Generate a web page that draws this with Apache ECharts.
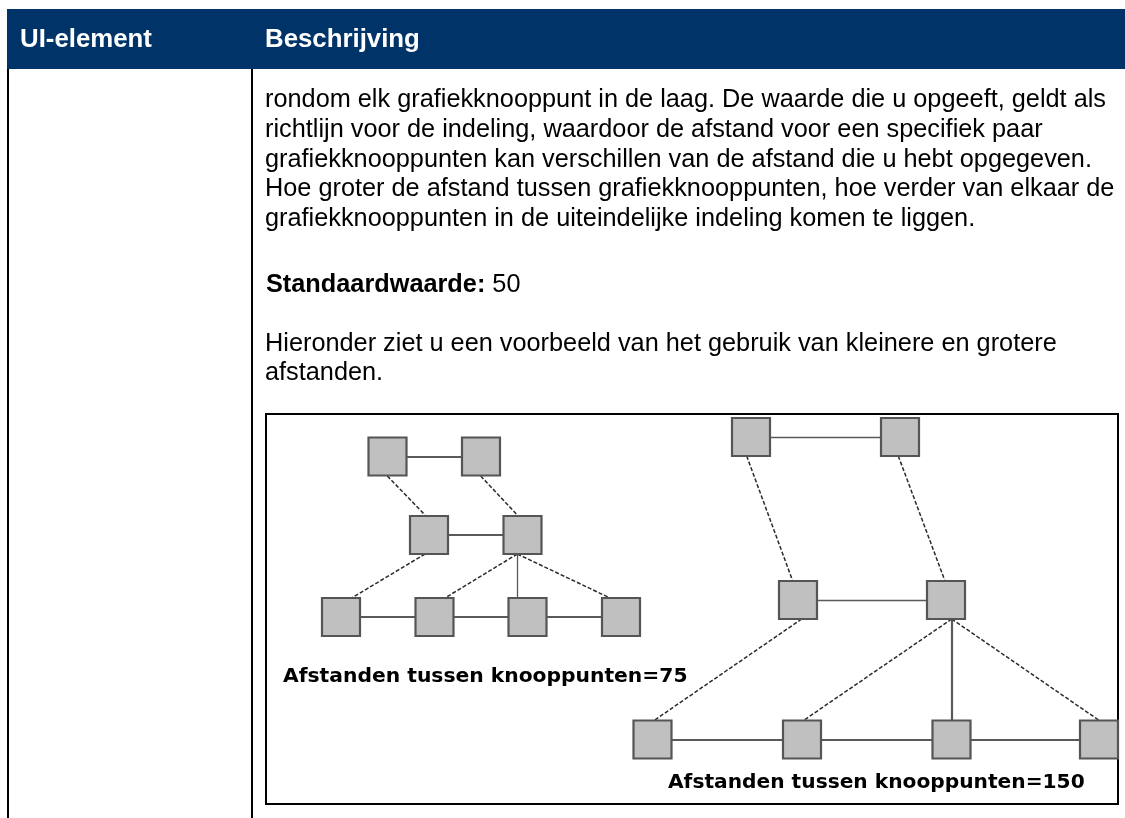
<!DOCTYPE html>
<html>
<head>
<meta charset="utf-8">
<script src="https://cdn.jsdelivr.net/npm/echarts@6/dist/echarts.min.js"></script>
<style>
html,body{margin:0;padding:0;background:#fff;}
#chart{width:1125px;height:818px;}
</style>
</head>
<body>
<div id="chart"></div>
<script>
// ---- data ----
var headerLabels = ['UI-element', 'Beschrijving'];
var paragraphLines = [
  'rondom elk grafiekknooppunt in de laag. De waarde die u opgeeft, geldt als',
  'richtlijn voor de indeling, waardoor de afstand voor een specifiek paar',
  'grafiekknooppunten kan verschillen van de afstand die u hebt opgegeven.',
  'Hoe groter de afstand tussen grafiekknooppunten, hoe verder van elkaar de',
  'grafiekknooppunten in de uiteindelijke indeling komen te liggen.'
];
var defaultLabel = 'Standaardwaarde:';
var defaultValue = ' 50';
var exampleLines = [
  'Hieronder ziet u een voorbeeld van het gebruik van kleinere en grotere',
  'afstanden.'
];
var leftCaption = 'Afstanden tussen knooppunten=75';
var rightCaption = 'Afstanden tussen knooppunten=150';

// node centres (page pixel units)
var leftNodes = [[387.5,456.5],[481,456.5],[429,535],[522.5,535],[341,617],[434.5,617],[527.5,617],[621,617]];
var rightNodes = [[751,437],[900,437],[798,600],[946,600],[652.5,739.5],[802,739.5],[951.5,739.5],[1099,739.5]];

// edges: endpoints [x1, y1, x2, y2]
var leftSolidEdges = [[387.5,456.5,481,456.5],[429,535,522.5,535],[341,617,434.5,617],[434.5,617,527.5,617],[527.5,617,621,617]];
var leftThinEdges = [[517.3,554,517.3,598]];
var leftDashedEdges = [[387.3,476,425,515],[480.7,476,517.3,515],[425,554,351.7,598],[517.3,554,445,598],[517.3,554,610,598]];

var rightSolidEdges = [[652.5,739.5,802,739.5],[802,739.5,951.5,739.5],[951.5,739.5,1099,739.5],[951.7,619,951.7,721]];
var rightThinEdges = [[751,437.3,900,437.3],[798,600,946,600]];
var rightDashedEdges = [[746.7,456,792.7,581],[898.3,456,945,581],[801.7,619,653.3,721],[951.7,619,802.7,721],[951.7,619,1100,721]];

// ---- rendering ----
function toLines(arr){
  return arr.map(function(e){ return {coords:[[e[0],e[1]],[e[2],e[3]]]}; });
}
function lineSeries(arr, style){
  return {type:'lines', coordinateSystem:'cartesian2d', polyline:false, silent:true, z:3,
          lineStyle:style, data:toLines(arr)};
}

var chart = echarts.init(document.getElementById('chart'), null, {renderer:'canvas'});
var bodyFont = '"Liberation Sans", Arial, sans-serif';
var capFont = '"DejaVu Sans", Verdana, sans-serif';
var bodySize = 25.3;

var graphics = [];
// header band
graphics.push({type:'rect', shape:{x:7,y:9,width:1118,height:60}, style:{fill:'#003468'}, z:1});
graphics.push({type:'text', x:20, y:40, style:{text:headerLabels[0], fill:'#fff', font:'bold 25.8px ' + bodyFont, textVerticalAlign:'middle'}, z:2});
graphics.push({type:'text', x:265, y:40, style:{text:headerLabels[1], fill:'#fff', font:'bold 25.8px ' + bodyFont, textVerticalAlign:'middle'}, z:2});
// table borders
graphics.push({type:'line', shape:{x1:8,y1:69,x2:8,y2:818}, style:{stroke:'#000', lineWidth:2}, z:1});
graphics.push({type:'line', shape:{x1:252,y1:69,x2:252,y2:818}, style:{stroke:'#000', lineWidth:2}, z:1});
// paragraph
paragraphLines.forEach(function(t,i){
  graphics.push({type:'text', x:265, y:100 + i*29.8, style:{text:t, fill:'#000', font:bodySize + 'px ' + bodyFont, textVerticalAlign:'middle'}, z:2});
});
graphics.push({type:'text', x:266, y:285, style:{
  text:'{b|' + defaultLabel + '}{n|' + defaultValue + '}',
  rich:{b:{font:'bold ' + bodySize + 'px ' + bodyFont, fill:'#000'}, n:{font:bodySize + 'px ' + bodyFont, fill:'#000'}},
  textVerticalAlign:'middle'}, z:2});
exampleLines.forEach(function(t,i){
  graphics.push({type:'text', x:265, y:344 + i*29.5, style:{text:t, fill:'#000', font:bodySize + 'px ' + bodyFont, textVerticalAlign:'middle'}, z:2});
});
// image frame
graphics.push({type:'rect', shape:{x:266,y:414,width:852,height:390}, style:{fill:'#fff', stroke:'#000', lineWidth:2}, z:0});
// captions
graphics.push({type:'text', x:283, y:677, style:{text:leftCaption, fill:'#000', font:'bold 20.3px ' + capFont, textVerticalAlign:'middle'}, z:2});
graphics.push({type:'text', x:668, y:783, style:{text:rightCaption, fill:'#000', font:'bold 20.2px ' + capFont, textVerticalAlign:'middle'}, z:2});

var nodeStyle = {color:'#c0c0c0', borderColor:'#555555', borderWidth:2.2, opacity:1};
var solidStyle = {type:'solid', width:2.2, color:'#5a5a5a', opacity:1, curveness:0};
var thinStyle = {type:'solid', width:1.3, color:'#5a5a5a', opacity:1, curveness:0};
var dashStyle = {type:[4,2], width:1.5, color:'#2b2b2b', opacity:1, curveness:0};

chart.setOption({
  animation:false,
  graphic:{elements:graphics},
  grid:{left:0,right:0,top:0,bottom:0,containLabel:false},
  xAxis:{type:'value', min:0, max:1125, show:false},
  yAxis:{type:'value', min:0, max:818, inverse:true, show:false},
  series:[
    lineSeries(leftSolidEdges, solidStyle),
    lineSeries(leftThinEdges, thinStyle),
    lineSeries(leftDashedEdges, dashStyle),
    lineSeries(rightSolidEdges, solidStyle),
    lineSeries(rightThinEdges, thinStyle),
    lineSeries(rightDashedEdges, dashStyle),
    {type:'scatter', symbol:'rect', symbolSize:38, itemStyle:nodeStyle, z:5, silent:true, data:leftNodes},
    {type:'scatter', symbol:'rect', symbolSize:38, itemStyle:nodeStyle, z:5, silent:true, data:rightNodes}
  ]
});
</script>
</body>
</html>
